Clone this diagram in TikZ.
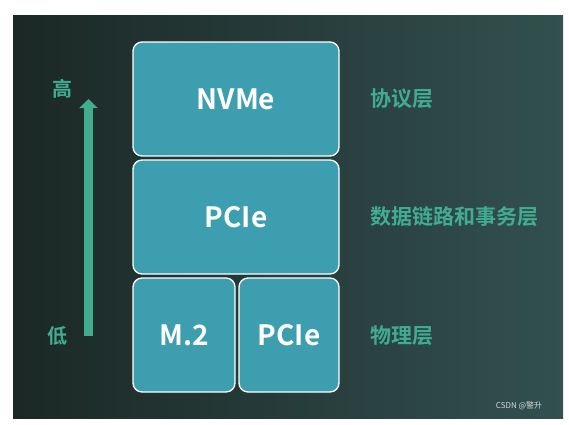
\documentclass[tikz,border=0pt]{standalone}
\usepackage{fontspec}
\setmainfont{Noto Sans CJK SC}[BoldFont={* Bold}]
\usetikzlibrary{arrows.meta}
\definecolor{bgL}{RGB}{27,40,37}
\definecolor{bgR}{RGB}{50,80,80}
\definecolor{boxfill}{RGB}{61,158,176}
\definecolor{lbl}{RGB}{66,172,142}
\tikzset{
  x=1pt,y=-1pt,
  layer/.style={draw=white,line width=1.3pt,fill=boxfill,rounded corners=9pt,
    inner sep=0pt,text=white,font=\fontsize{28}{32}\selectfont\bfseries},
  side/.style={text=lbl,anchor=west,inner sep=0pt,font=\fontsize{21}{24}\selectfont\bfseries},
  updown/.style={text=lbl,inner sep=0pt,font=\fontsize{20}{24}\selectfont\bfseries},
}
\begin{document}
\begin{tikzpicture}
\useasboundingbox (0,0) rectangle (569,424);
\fill[white] (0,0) rectangle (569,424);
\shade[left color=bgL,right color=bgR] (13,15) rectangle (563,418);
% boxes
\node[layer,minimum width=206pt,minimum height=114pt] (nvme) at (236,99) {NVMe};
\node[layer,minimum width=206pt,minimum height=114pt] (pcie) at (236,217) {PCIe};
\node[layer,minimum width=102pt,minimum height=114pt] (m2) at (184,335) {M.2};
\node[layer,minimum width=100pt,minimum height=114pt] (pcie2) at (289,335) {PCIe};
% side labels
\node[side] (l1) at (370,99) {协议层};
\node[side] (l2) at (370,217) {数据链路和事务层};
\node[side] (l3) at (370,336) {物理层};
% arrow
\node[updown] (hi) at (62,89) {高};
\node[updown] (lo) at (57,336) {低};
\coordinate (abot) at (88.5,336);
\coordinate (atop) at (88.5,99);
\draw[lbl,line width=9pt,-{Triangle[width=18pt,length=9pt]}] (abot) -- (atop);
% watermark
\node[text=white!70!gray,inner sep=0pt,font=\fontsize{8}{9}\selectfont] (wm) at (519,406) {CSDN @警升};
\end{tikzpicture}
\end{document}
